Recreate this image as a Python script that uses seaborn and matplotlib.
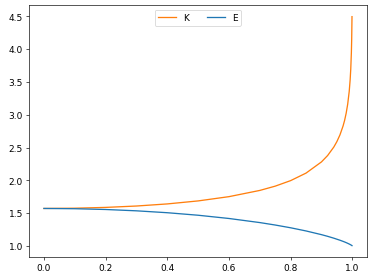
import matplotlib
matplotlib.use("Agg")
import matplotlib.pyplot as plt
import seaborn as sns
import pandas as pd

k = [0.0, 0.1, 0.2, 0.3, 0.4, 0.5, 0.6, 0.7, 0.75, 0.8, 0.85, 0.9, 0.92,
     0.94, 0.95, 0.96, 0.97, 0.975, 0.98, 0.985, 0.99, 0.993, 0.995, 0.997,
     0.998, 0.999]
K = [1.5708, 1.5747, 1.5869, 1.6080, 1.6400, 1.6858, 1.7508, 1.8457, 1.9110,
     1.9953, 2.1100, 2.2805, 2.3780, 2.5070, 2.5900, 2.6931, 2.8276, 2.9130,
     3.0207, 3.1595, 3.3564, 3.5313, 3.6969, 3.9495, 4.1507, 4.4955]
E = [1.5708, 1.5669, 1.5550, 1.5348, 1.5059, 1.4675, 1.4180, 1.3556, 1.3183,
     1.2762, 1.2279, 1.1715, 1.1459, 1.1177, 1.1020, 1.0864, 1.0691, 1.0600,
     1.0500, 1.0397, 1.0284, 1.0211, 1.0159, 1.0103, 1.0073, 1.0040]

df = pd.DataFrame({"k": k, "K": K, "E": E})

plt.rcParams["font.size"] = 11
fig, ax = plt.subplots(figsize=(6.4, 4.8), dpi=58.5)
fig.subplots_adjust(left=0.0762, right=0.9813, top=0.9787, bottom=0.0816)
sns.lineplot(data=df, x="k", y="K", ax=ax, color="C1", label="K", sort=False, linewidth=1.6)
sns.lineplot(data=df, x="k", y="E", ax=ax, color="C0", label="E", sort=False, linewidth=1.6)
ax.set_xlabel("")
ax.set_ylabel("")
ax.set_yticks([1.0, 1.5, 2.0, 2.5, 3.0, 3.5, 4.0, 4.5])
ax.legend(loc="upper center", ncol=2)
fig.savefig("out.png", dpi=58.5)
